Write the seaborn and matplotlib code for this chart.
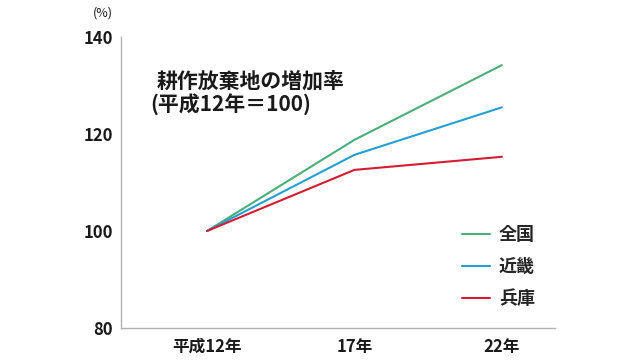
import matplotlib
matplotlib.use("Agg")
import matplotlib.pyplot as plt
import seaborn as sns
import pandas as pd

years = ["平成12年", "17年", "22年"]
zenkoku = [100, 118.8, 134.2]
kinki = [100, 115.7, 125.5]
hyogo = [100, 112.6, 115.3]
series_names = ["全国", "近畿", "兵庫"]
colors = ["#4aae7a", "#259fd3", "#d41c33"]

sns.set_theme(style="white")
plt.rcParams['font.family'] = ['Noto Sans CJK JP', 'DejaVu Sans']

rows = []
for name, vals in zip(series_names, [zenkoku, kinki, hyogo]):
    for i, v in enumerate(vals):
        rows.append({"x": i, "value": v, "series": name})
df = pd.DataFrame(rows)

fig = plt.figure(figsize=(6.4, 3.6), dpi=100)
ax = fig.add_axes([121/640, 1-328/360, (555-121)/640, (328-37)/360])
sns.lineplot(data=df, x="x", y="value", hue="series", hue_order=series_names,
             palette=colors, linewidth=1.5, ax=ax, legend=True)

ax.set_xlim(-0.583, 2.36)
ax.set_ylim(80, 140)
ax.set_xticks(range(len(years)))
ax.set_xticklabels(years)
ax.set_yticks([80, 100, 120, 140])
ax.set_xlabel("")
ax.set_ylabel("")
for s in ["top", "right"]:
    ax.spines[s].set_visible(False)
for s in ["left", "bottom"]:
    ax.spines[s].set_color("#b0b0b0")
    ax.spines[s].set_linewidth(1.0)
ax.tick_params(axis="both", direction="in", length=5, width=0.8, color="#b0b0b0",
               labelsize=12, labelcolor="#1a1a1a")
ax.tick_params(axis="x", pad=7)
ax.tick_params(axis="y", pad=6)
for lab in ax.get_xticklabels() + ax.get_yticklabels():
    lab.set_fontweight("bold")

leg = ax.legend(loc="upper left", bbox_to_anchor=(0.748, 0.41), frameon=False,
                handlelength=1.55, handletextpad=0.5, labelspacing=0.72,
                prop={"size": 13, "weight": "bold"})

fig.text(157/640, 1-81/360, "耕作放棄地の増加率", fontsize=15, fontweight="bold",
         va="center", ha="left", color="#1a1a1a")
fig.text(150/640, 1-105/360, "(平成12年＝100)", fontsize=15, fontweight="bold",
         va="center", ha="left", color="#1a1a1a")
fig.text(103/640, 1-13/360, "(%)", fontsize=9, va="center", ha="center", color="#1a1a1a")

fig.savefig("out.png", dpi=100)
